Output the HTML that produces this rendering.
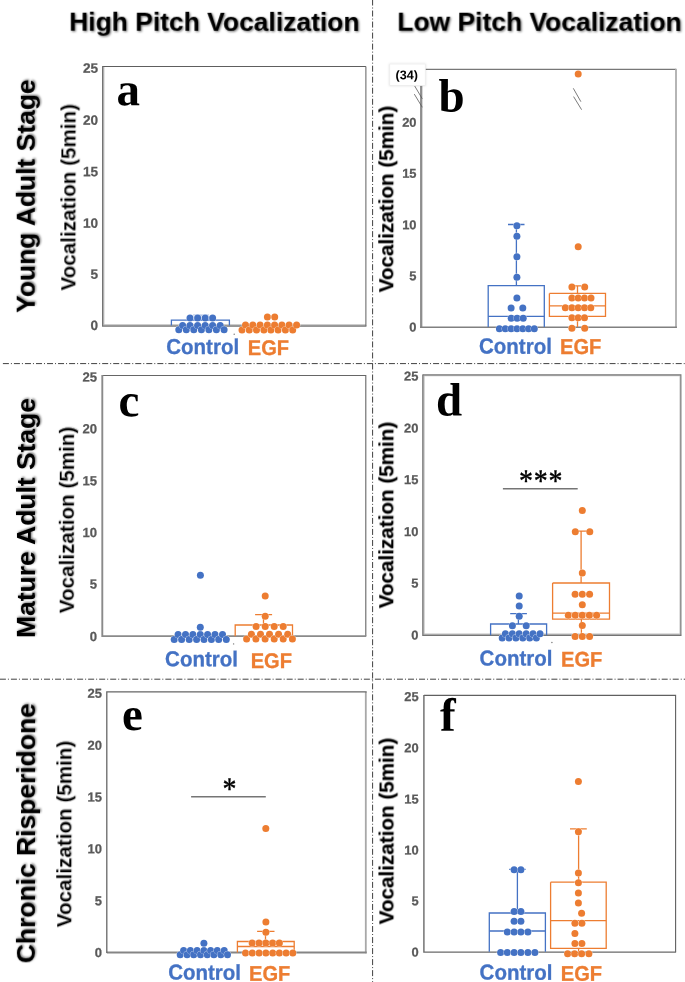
<!DOCTYPE html>
<html lang="en"><head><meta charset="utf-8"><title>Vocalization figure</title>
<style>
html,body{margin:0;padding:0;background:#fff;overflow:hidden;}
body{width:685px;height:982px;overflow:hidden;position:relative;}
svg{position:absolute;left:0;top:0;display:block;filter:blur(0.4px);}
text{font-family:"Liberation Sans",Arial,Helvetica,sans-serif;}
.ttl{font-weight:bold;font-size:26.45px;fill:#000;filter:url(#sh);}
.row{font-weight:bold;font-size:26.45px;fill:#000;filter:url(#sh);}
.ylb{font-weight:bold;font-size:20.65px;fill:#000;filter:url(#sh2);}
.thin{stroke:#fff;stroke-width:0.12px;}
.ylr{font-weight:normal;font-size:20px;letter-spacing:0.95px;fill:#000;stroke:#000;stroke-width:0.7px;filter:url(#sh2);}
.tk{font-weight:bold;fill:#595959;stroke:#595959;stroke-width:0.25px;text-anchor:end;}
.pl{font-family:"Liberation Serif","Times New Roman",serif;font-weight:bold;font-size:47px;fill:#000;}
.cl{font-weight:bold;font-size:20.5px;fill:#4472C4;stroke:#4472C4;stroke-width:0.3px;}
.el{font-weight:bold;font-size:20.1px;fill:#ED7D31;stroke:#ED7D31;stroke-width:0.3px;}
.st{font-family:"Liberation Serif","Times New Roman",serif;font-size:30px;fill:#000;stroke:#000;stroke-width:0.4px;text-anchor:middle;}
.n34{font-weight:bold;font-size:12.6px;fill:#000;}
</style></head><body>
<svg width="685" height="982" viewBox="0 0 685 982" role="img" aria-label="Vocalization box plots">
<defs>
<filter id="sh" x="-20%" y="-20%" width="140%" height="140%"><feDropShadow dx="1" dy="1" stdDeviation="0.9" flood-color="#000" flood-opacity="0.55"/></filter>
<filter id="sh2" x="-20%" y="-20%" width="140%" height="140%"><feDropShadow dx="0.5" dy="0.5" stdDeviation="0.6" flood-color="#000" flood-opacity="0.35"/></filter>
<filter id="bx" x="-20%" y="-20%" width="140%" height="140%"><feDropShadow dx="0" dy="0" stdDeviation="0.9" flood-color="#000" flood-opacity="0.13"/></filter>
</defs>
<rect x="0" y="0" width="685" height="982" fill="#fff"/>

<g stroke="#404040" stroke-width="1" fill="none" stroke-dasharray="6 2 1 2.03">
<line x1="372.6" y1="-0.5" x2="372.6" y2="982"/>
<line x1="2.9" y1="363.6" x2="685" y2="363.6"/>
<line x1="-0.1" y1="679.2" x2="685" y2="679.2"/>
</g>
<text class="ttl" transform="translate(69.2 30.7) skewY(0.05)">High Pitch Vocalization</text>
<text class="ttl" transform="translate(397.3 30.7) skewY(0.05)">Low Pitch Vocalization</text>
<path d="M103.6 66.5 L103.6 325.1 L365.9 325.1" fill="none" stroke="#bdbdbd" stroke-width="1.6"/>
<path d="M102.6 66.5 L365.9 66.5 L365.9 326.1" fill="none" stroke="#5e5e5e" stroke-width="1"/>
<path d="M102.6 66.0 L102.6 326.1 L366.4 326.1" fill="none" stroke="#747474" stroke-width="1.2"/>
<path d="M421.2 69.3 L676.0 69.3" fill="none" stroke="#555" stroke-width="1"/>
<path d="M676.0 68.8 L676.0 328.0" fill="none" stroke="#adadad" stroke-width="1.8"/>
<path d="M421.2 85.3 L421.2 328.0" fill="none" stroke="#8e8e8e" stroke-width="2.3"/>
<path d="M420.1 327.3 L676.9 327.3" fill="none" stroke="#808080" stroke-width="1.5"/>
<path d="M102.3 375.5 L365.8 375.5 L365.8 636.1" fill="none" stroke="#666" stroke-width="1.1"/>
<path d="M102.3 375.0 L102.3 636.1 L366.3 636.1" fill="none" stroke="#8a8a8a" stroke-width="1.9"/>
<path d="M423.8 374.9 L423.8 634.4 L680.9 634.4" fill="none" stroke="#bdbdbd" stroke-width="1.6"/>
<path d="M423.2 375.6 L680.2 375.6 L680.2 635.0" fill="none" stroke="#c4c4c4" stroke-width="1.4"/>
<path d="M422.8 374.9 L680.9 374.9 L680.9 635.4" fill="none" stroke="#777" stroke-width="1.1"/>
<path d="M422.8 374.4 L422.8 635.4 L681.4 635.4" fill="none" stroke="#747474" stroke-width="1.2"/>
<path d="M365.8 691.9 L365.8 953.3" fill="none" stroke="#a8a8a8" stroke-width="1.8"/>
<path d="M106.8 952.5 L366.7 952.5" fill="none" stroke="#858585" stroke-width="1.8"/>
<path d="M106.8 953.1 L106.8 691.9 L366.7 691.9" fill="none" stroke="#666" stroke-width="1.3"/>
<path d="M423.9 695.4 L675.6 695.4 L675.6 952.1" fill="none" stroke="#606060" stroke-width="1.1"/>
<path d="M423.9 694.9 L423.9 952.1 L676.1 952.1" fill="none" stroke="#6a6a6a" stroke-width="1.4"/>
<g style="font-size:13.6px">
<text class="tk" transform="translate(98.0 72.67) skewY(0.05)">25</text>
<text class="tk" transform="translate(98.0 124.87) skewY(0.05)">20</text>
<text class="tk" transform="translate(98.0 176.37) skewY(0.05)">15</text>
<text class="tk" transform="translate(98.0 227.77) skewY(0.05)">10</text>
<text class="tk" transform="translate(98.0 278.87) skewY(0.05)">5</text>
<text class="tk" transform="translate(98.0 330.07) skewY(0.05)">0</text>
</g>
<g style="font-size:12.9px">
<text class="tk" transform="translate(416.5 126.72) skewY(0.05)">20</text>
<text class="tk" transform="translate(416.5 177.82) skewY(0.05)">15</text>
<text class="tk" transform="translate(416.5 229.22) skewY(0.05)">10</text>
<text class="tk" transform="translate(416.5 280.32) skewY(0.05)">5</text>
<text class="tk" transform="translate(416.5 331.62) skewY(0.05)">0</text>
</g>
<g style="font-size:13.1px">
<text class="tk" transform="translate(97.0 381.49) skewY(0.05)">25</text>
<text class="tk" transform="translate(97.0 433.19) skewY(0.05)">20</text>
<text class="tk" transform="translate(97.0 485.29) skewY(0.05)">15</text>
<text class="tk" transform="translate(97.0 537.09) skewY(0.05)">10</text>
<text class="tk" transform="translate(97.0 588.59) skewY(0.05)">5</text>
<text class="tk" transform="translate(97.0 640.89) skewY(0.05)">0</text>
</g>
<g style="font-size:12.9px">
<text class="tk" transform="translate(418.4 380.62) skewY(0.05)">25</text>
<text class="tk" transform="translate(418.4 432.42) skewY(0.05)">20</text>
<text class="tk" transform="translate(418.4 484.12) skewY(0.05)">15</text>
<text class="tk" transform="translate(418.4 535.92) skewY(0.05)">10</text>
<text class="tk" transform="translate(418.4 587.52) skewY(0.05)">5</text>
<text class="tk" transform="translate(418.4 639.42) skewY(0.05)">0</text>
</g>
<g style="font-size:13.0px">
<text class="tk" transform="translate(102.0 697.75) skewY(0.05)">25</text>
<text class="tk" transform="translate(102.0 749.65) skewY(0.05)">20</text>
<text class="tk" transform="translate(102.0 801.45) skewY(0.05)">15</text>
<text class="tk" transform="translate(102.0 853.35) skewY(0.05)">10</text>
<text class="tk" transform="translate(102.0 905.15) skewY(0.05)">5</text>
<text class="tk" transform="translate(102.0 957.00) skewY(0.05)">0</text>
</g>
<g style="font-size:12.9px">
<text class="tk" transform="translate(418.6 701.12) skewY(0.05)">25</text>
<text class="tk" transform="translate(418.6 752.32) skewY(0.05)">20</text>
<text class="tk" transform="translate(418.6 803.42) skewY(0.05)">15</text>
<text class="tk" transform="translate(418.6 854.42) skewY(0.05)">10</text>
<text class="tk" transform="translate(418.6 905.22) skewY(0.05)">5</text>
<text class="tk" transform="translate(418.6 956.62) skewY(0.05)">0</text>
</g>
<text class="row" transform="translate(34.7 312.9) rotate(-90) skewY(0.05)">Young Adult Stage</text>
<text class="row" transform="translate(34.9 638.0) rotate(-90) skewY(0.05)">Mature Adult Stage</text>
<text class="row" transform="translate(34.9 963.3) rotate(-90) skewY(0.05)">Chronic Risperidone</text>
<text class="ylb thin" transform="translate(75.3 290.6) rotate(-90) skewY(0.05)">Vocalization (5min)</text>
<text class="ylb" transform="translate(393.2 292.4) rotate(-90) skewY(0.05)">Vocalization (5min)</text>
<text class="ylb thin" transform="translate(73.7 613.3) rotate(-90) skewY(0.05)">Vocalization (5min)</text>
<text class="ylb" transform="translate(393.2 608.4) rotate(-90) skewY(0.05)">Vocalization (5min)</text>
<text class="ylb thin" transform="translate(71.2 927.3) rotate(-90) skewY(0.05)">Vocalization (5min)</text>
<text class="ylb" transform="translate(393.4 924.4) rotate(-90) skewY(0.05)">Vocalization (5min)</text>
<text class="pl" transform="translate(116.5 105.2) skewY(0.05)">a</text>
<text class="pl" transform="translate(438.5 111.6) skewY(0.05)">b</text>
<text class="pl" transform="translate(118.6 416.3) skewY(0.05)">c</text>
<text class="pl" transform="translate(436 415.6) skewY(0.05)">d</text>
<text class="pl" transform="translate(122 730) skewY(0.05)">e</text>
<text class="pl" transform="translate(440 730.8) skewY(0.05)">f</text>
<text class="cl" transform="translate(166.3 354.0) scale(1 1.05) skewY(0.05)">Control</text>
<text class="el" transform="translate(247.8 355.0) scale(1 1.05) skewY(0.05)">EGF</text>
<text class="cl" transform="translate(479.0 353.6) scale(1 1.07) skewY(0.05)">Control</text>
<text class="el" transform="translate(560.1 353.9) scale(1 1.07) skewY(0.05)">EGF</text>
<text class="cl" transform="translate(165.1 666.2) scale(1 1.05) skewY(0.05)">Control</text>
<text class="el" transform="translate(250.7 667.9) scale(1 1.05) skewY(0.05)">EGF</text>
<text class="cl" transform="translate(479.6 665.5) scale(1 1.05) skewY(0.05)">Control</text>
<text class="el" transform="translate(561.0 666.6) scale(1 1.05) skewY(0.05)">EGF</text>
<text class="cl" transform="translate(168.2 979.6) scale(1 1.05) skewY(0.05)">Control</text>
<text class="el" transform="translate(249.0 980.8) scale(1 1.05) skewY(0.05)">EGF</text>
<text class="cl" transform="translate(479.6 979.6) scale(1 1.05) skewY(0.05)">Control</text>
<text class="el" transform="translate(560.8 980.8) scale(1 1.05) skewY(0.05)">EGF</text>
<path d="M171.4 325.5 L171.4 320.1 L229.4 320.1 L229.4 325.5" fill="none" stroke="#4472C4" stroke-width="1.3"/>
<g opacity="0.45">
<path d="M193.0 315.0 L209.0 315.0 M201.0 315.0 L201.0 320.1" fill="none" stroke="#4472C4" stroke-width="1.0"/>
</g>
<g fill="#4472C4" stroke="#fff" stroke-width="0.9" stroke-opacity="0.75" paint-order="stroke">
<circle cx="178.8" cy="329.7" r="3.5"/>
<circle cx="182.6" cy="325.4" r="3.5"/>
<circle cx="186.3" cy="329.7" r="3.5"/>
<circle cx="190.0" cy="325.4" r="3.5"/>
<circle cx="193.8" cy="329.7" r="3.5"/>
<circle cx="197.6" cy="325.4" r="3.5"/>
<circle cx="201.4" cy="329.7" r="3.5"/>
<circle cx="205.2" cy="325.4" r="3.5"/>
<circle cx="208.9" cy="329.7" r="3.5"/>
<circle cx="212.6" cy="325.4" r="3.5"/>
<circle cx="216.4" cy="329.7" r="3.5"/>
<circle cx="220.2" cy="325.4" r="3.5"/>
<circle cx="224.1" cy="329.7" r="3.5"/>
<circle cx="190.0" cy="318.1" r="3.5"/>
<circle cx="197.6" cy="318.1" r="3.5"/>
<circle cx="205.2" cy="318.1" r="3.5"/>
<circle cx="212.6" cy="318.1" r="3.5"/>
</g>
<g fill="#ED7D31" stroke="#fff" stroke-width="0.9" stroke-opacity="0.75" paint-order="stroke">
<circle cx="242.0" cy="330.1" r="3.5"/>
<circle cx="245.5" cy="324.9" r="3.5"/>
<circle cx="249.3" cy="330.1" r="3.5"/>
<circle cx="252.8" cy="324.9" r="3.5"/>
<circle cx="256.5" cy="330.1" r="3.5"/>
<circle cx="260.1" cy="324.9" r="3.5"/>
<circle cx="263.9" cy="330.1" r="3.5"/>
<circle cx="267.4" cy="324.9" r="3.5"/>
<circle cx="270.9" cy="330.1" r="3.5"/>
<circle cx="274.6" cy="324.9" r="3.5"/>
<circle cx="278.1" cy="330.1" r="3.5"/>
<circle cx="281.9" cy="324.9" r="3.5"/>
<circle cx="285.4" cy="330.1" r="3.5"/>
<circle cx="289.1" cy="324.9" r="3.5"/>
<circle cx="292.7" cy="330.1" r="3.5"/>
<circle cx="296.6" cy="324.9" r="3.5"/>
<circle cx="267.4" cy="316.9" r="3.5"/>
<circle cx="274.7" cy="316.9" r="3.5"/>
</g>
<g fill="#777"><circle cx="234.2" cy="334.3" r="0.7"/><circle cx="233.6" cy="643.9" r="0.7"/><circle cx="551.9" cy="642.5" r="0.7"/></g>
<path d="M488.2 327.0 L488.2 285.7 L544.3 285.7 L544.3 327.0" fill="none" stroke="#4472C4" stroke-width="1.3"/>
<path d="M488.2 316.3 L544.3 316.3 M516.4 285.7 L516.4 224.5 M508.0 224.5 L524.5 224.5" fill="none" stroke="#4472C4" stroke-width="1.3"/>
<g fill="#4472C4" stroke="#fff" stroke-width="0.9" stroke-opacity="0.75" paint-order="stroke">
<circle cx="516.9" cy="225.7" r="3.5"/>
<circle cx="516.9" cy="236.2" r="3.5"/>
<circle cx="516.9" cy="256.7" r="3.5"/>
<circle cx="516.9" cy="277.3" r="3.5"/>
<circle cx="516.9" cy="297.9" r="3.5"/>
<circle cx="511.1" cy="307.9" r="3.5"/>
<circle cx="522.8" cy="307.9" r="3.5"/>
<circle cx="511.2" cy="318.2" r="3.5"/>
<circle cx="517.1" cy="318.2" r="3.5"/>
<circle cx="523.2" cy="318.2" r="3.5"/>
<circle cx="499.4" cy="328.7" r="3.5"/>
<circle cx="505.3" cy="328.7" r="3.5"/>
<circle cx="511.1" cy="328.7" r="3.5"/>
<circle cx="517.0" cy="328.7" r="3.5"/>
<circle cx="522.8" cy="328.7" r="3.5"/>
<circle cx="528.6" cy="328.7" r="3.5"/>
<circle cx="534.3" cy="328.7" r="3.5"/>
</g>
<path d="M549.4 293.4 L605.5 293.4 L605.5 316.3 L549.4 316.3 L549.4 293.4" fill="none" stroke="#ED7D31" stroke-width="1.3"/>
<path d="M549.4 305.8 L605.5 305.8 M577.5 285.9 L577.5 293.4 M574.0 285.9 L581.0 285.9 M577.5 316.3 L577.5 327.0" fill="none" stroke="#ED7D31" stroke-width="1.3"/>
<g fill="#ED7D31" stroke="#fff" stroke-width="0.9" stroke-opacity="0.75" paint-order="stroke">
<circle cx="578.2" cy="74.0" r="3.5"/>
<circle cx="578.2" cy="246.7" r="3.5"/>
<circle cx="571.9" cy="287.1" r="3.5"/>
<circle cx="584.7" cy="287.1" r="3.5"/>
<circle cx="571.9" cy="297.9" r="3.5"/>
<circle cx="578.2" cy="297.9" r="3.5"/>
<circle cx="584.5" cy="297.9" r="3.5"/>
<circle cx="591.0" cy="297.9" r="3.5"/>
<circle cx="565.3" cy="307.7" r="3.5"/>
<circle cx="571.9" cy="307.7" r="3.5"/>
<circle cx="578.2" cy="307.7" r="3.5"/>
<circle cx="584.5" cy="307.7" r="3.5"/>
<circle cx="590.8" cy="307.7" r="3.5"/>
<circle cx="571.9" cy="317.7" r="3.5"/>
<circle cx="578.2" cy="317.7" r="3.5"/>
<circle cx="584.5" cy="317.7" r="3.5"/>
<circle cx="571.9" cy="328.2" r="3.5"/>
<circle cx="584.7" cy="328.2" r="3.5"/>
</g>
<path d="M414.7 86.0 L422.3 98.8 M414.3 94.1 L422.3 107.3 M573.3 88.3 L580.9 101.7 M573.6 96.6 L581.6 109.7" fill="none" stroke="#595959" stroke-width="0.8"/>
<rect x="389.7" y="64.0" width="35.6" height="21.6" fill="#fff" stroke="#ececec" stroke-width="0.8" filter="url(#bx)"/>
<text class="n34" transform="translate(395.6 79.3) skewY(0.05)">(34)</text>
<g fill="#4472C4" stroke="#fff" stroke-width="0.9" stroke-opacity="0.75" paint-order="stroke">
<circle cx="174.2" cy="639.4" r="3.5"/>
<circle cx="178.1" cy="634.5" r="3.5"/>
<circle cx="181.6" cy="639.4" r="3.5"/>
<circle cx="185.5" cy="634.5" r="3.5"/>
<circle cx="189.2" cy="639.4" r="3.5"/>
<circle cx="192.9" cy="634.5" r="3.5"/>
<circle cx="196.6" cy="639.4" r="3.5"/>
<circle cx="200.3" cy="634.5" r="3.5"/>
<circle cx="204.0" cy="639.4" r="3.5"/>
<circle cx="207.6" cy="634.5" r="3.5"/>
<circle cx="211.4" cy="639.4" r="3.5"/>
<circle cx="215.0" cy="634.5" r="3.5"/>
<circle cx="218.7" cy="639.4" r="3.5"/>
<circle cx="222.5" cy="634.5" r="3.5"/>
<circle cx="226.3" cy="639.4" r="3.5"/>
<circle cx="200.3" cy="627.2" r="3.5"/>
<circle cx="200.4" cy="575.2" r="3.5"/>
</g>
<path d="M235.2 636.3 L235.2 625.0 L292.5 625.0 L292.5 636.3" fill="none" stroke="#ED7D31" stroke-width="1.3"/>
<path d="M255.1 614.6 L272.1 614.6 M263.5 614.6 L263.5 625.0" fill="none" stroke="#ED7D31" stroke-width="1.3"/>
<g fill="#ED7D31" stroke="#fff" stroke-width="0.9" stroke-opacity="0.75" paint-order="stroke">
<circle cx="246.6" cy="639.0" r="3.5"/>
<circle cx="251.4" cy="634.3" r="3.5"/>
<circle cx="255.9" cy="639.0" r="3.5"/>
<circle cx="260.5" cy="634.3" r="3.5"/>
<circle cx="265.1" cy="639.0" r="3.5"/>
<circle cx="269.5" cy="634.3" r="3.5"/>
<circle cx="274.2" cy="639.0" r="3.5"/>
<circle cx="278.6" cy="634.3" r="3.5"/>
<circle cx="283.2" cy="639.0" r="3.5"/>
<circle cx="287.7" cy="634.3" r="3.5"/>
<circle cx="292.4" cy="639.0" r="3.5"/>
<circle cx="256.1" cy="626.4" r="3.5"/>
<circle cx="265.2" cy="626.4" r="3.5"/>
<circle cx="274.2" cy="626.4" r="3.5"/>
<circle cx="283.2" cy="626.4" r="3.5"/>
<circle cx="265.2" cy="616.2" r="3.5"/>
<circle cx="265.2" cy="596.1" r="3.5"/>
</g>
<path d="M502.9 488.7 L577.7 488.7" fill="none" stroke="#757575" stroke-width="1.6"/>
<text class="st" transform="translate(541.2 491.2) scale(0.93 1.06) skewY(0.05)" style="letter-spacing:0.95px">***</text>
<path d="M490.6 635.3 L490.6 624.0 L546.6 624.0 L546.6 635.3" fill="none" stroke="#4472C4" stroke-width="1.3"/>
<path d="M510.2 613.6 L526.9 613.6 M518.4 613.6 L518.4 624.0" fill="none" stroke="#4472C4" stroke-width="1.3"/>
<g fill="#4472C4" stroke="#fff" stroke-width="0.9" stroke-opacity="0.75" paint-order="stroke">
<circle cx="502.2" cy="637.9" r="3.5"/>
<circle cx="505.4" cy="633.8" r="3.5"/>
<circle cx="509.0" cy="637.9" r="3.5"/>
<circle cx="512.4" cy="633.8" r="3.5"/>
<circle cx="515.9" cy="637.9" r="3.5"/>
<circle cx="519.2" cy="633.8" r="3.5"/>
<circle cx="522.8" cy="637.9" r="3.5"/>
<circle cx="526.2" cy="633.8" r="3.5"/>
<circle cx="529.7" cy="637.9" r="3.5"/>
<circle cx="533.0" cy="633.8" r="3.5"/>
<circle cx="536.4" cy="637.9" r="3.5"/>
<circle cx="540.0" cy="633.8" r="3.5"/>
<circle cx="519.2" cy="595.9" r="3.5"/>
<circle cx="519.2" cy="605.9" r="3.5"/>
<circle cx="519.2" cy="616.2" r="3.5"/>
<circle cx="512.4" cy="625.7" r="3.5"/>
<circle cx="526.2" cy="625.7" r="3.5"/>
</g>
<path d="M552.6 583.0 L609.5 583.0 L609.5 619.1 L552.6 619.1 L552.6 583.0" fill="none" stroke="#ED7D31" stroke-width="1.3"/>
<path d="M552.6 613.2 L609.5 613.2 M581.1 531.1 L581.1 583.0 M573.0 531.1 L590.0 531.1 M581.4 619.1 L581.4 636.0" fill="none" stroke="#ED7D31" stroke-width="1.3"/>
<g fill="#ED7D31" stroke="#fff" stroke-width="0.9" stroke-opacity="0.75" paint-order="stroke">
<circle cx="582.3" cy="510.5" r="3.5"/>
<circle cx="575.3" cy="531.7" r="3.5"/>
<circle cx="589.8" cy="531.7" r="3.5"/>
<circle cx="582.3" cy="573.0" r="3.5"/>
<circle cx="575.1" cy="594.3" r="3.5"/>
<circle cx="582.3" cy="594.3" r="3.5"/>
<circle cx="589.6" cy="594.3" r="3.5"/>
<circle cx="582.3" cy="604.8" r="3.5"/>
<circle cx="568.3" cy="615.3" r="3.5"/>
<circle cx="575.3" cy="615.3" r="3.5"/>
<circle cx="582.3" cy="615.3" r="3.5"/>
<circle cx="589.4" cy="615.3" r="3.5"/>
<circle cx="596.6" cy="615.3" r="3.5"/>
<circle cx="582.3" cy="625.6" r="3.5"/>
<circle cx="575.1" cy="636.4" r="3.5"/>
<circle cx="582.3" cy="636.4" r="3.5"/>
<circle cx="589.6" cy="636.4" r="3.5"/>
</g>
<path d="M191.1 796.7 L265.8 796.7" fill="none" stroke="#757575" stroke-width="1.6"/>
<text class="st" transform="translate(229.4 799.2) scale(0.93 1.06) skewY(0.05)">*</text>
<g fill="#4472C4" stroke="#fff" stroke-width="0.9" stroke-opacity="0.75" paint-order="stroke">
<circle cx="180.2" cy="954.7" r="3.5"/>
<circle cx="183.6" cy="950.4" r="3.5"/>
<circle cx="187.1" cy="954.7" r="3.5"/>
<circle cx="190.4" cy="950.4" r="3.5"/>
<circle cx="193.7" cy="954.7" r="3.5"/>
<circle cx="197.1" cy="950.4" r="3.5"/>
<circle cx="200.5" cy="954.7" r="3.5"/>
<circle cx="203.9" cy="950.4" r="3.5"/>
<circle cx="207.3" cy="954.7" r="3.5"/>
<circle cx="210.6" cy="950.4" r="3.5"/>
<circle cx="213.9" cy="954.7" r="3.5"/>
<circle cx="217.3" cy="950.4" r="3.5"/>
<circle cx="220.8" cy="954.7" r="3.5"/>
<circle cx="224.2" cy="950.4" r="3.5"/>
<circle cx="227.5" cy="954.7" r="3.5"/>
<circle cx="203.9" cy="943.2" r="3.5"/>
</g>
<path d="M237.4 952.5 L237.4 941.5 L294.2 941.5 L294.2 952.5" fill="none" stroke="#ED7D31" stroke-width="1.3"/>
<path d="M237.4 946.5 L294.2 946.5 M257.1 931.3 L274.5 931.3 M265.5 931.3 L265.5 941.5" fill="none" stroke="#ED7D31" stroke-width="1.3"/>
<g fill="#ED7D31" stroke="#fff" stroke-width="0.9" stroke-opacity="0.75" paint-order="stroke">
<circle cx="265.8" cy="828.5" r="3.5"/>
<circle cx="265.9" cy="922.1" r="3.5"/>
<circle cx="265.9" cy="932.3" r="3.5"/>
<circle cx="252.1" cy="942.9" r="3.5"/>
<circle cx="259.0" cy="942.9" r="3.5"/>
<circle cx="265.8" cy="942.9" r="3.5"/>
<circle cx="272.6" cy="942.9" r="3.5"/>
<circle cx="279.4" cy="942.9" r="3.5"/>
<circle cx="245.5" cy="953.1" r="3.5"/>
<circle cx="252.3" cy="953.1" r="3.5"/>
<circle cx="259.1" cy="953.1" r="3.5"/>
<circle cx="265.9" cy="953.1" r="3.5"/>
<circle cx="272.7" cy="953.1" r="3.5"/>
<circle cx="279.4" cy="953.1" r="3.5"/>
<circle cx="286.1" cy="953.1" r="3.5"/>
<circle cx="292.8" cy="953.1" r="3.5"/>
</g>
<path d="M489.3 951.8 L489.3 913.0 L545.4 913.0 L545.4 951.8" fill="none" stroke="#4472C4" stroke-width="1.3"/>
<path d="M489.3 931.0 L545.4 931.0 M517.4 869.3 L517.4 913.0 M509.2 869.3 L525.6 869.3" fill="none" stroke="#4472C4" stroke-width="1.3"/>
<g fill="#4472C4" stroke="#fff" stroke-width="0.9" stroke-opacity="0.75" paint-order="stroke">
<circle cx="514.1" cy="869.8" r="3.5"/>
<circle cx="520.9" cy="869.8" r="3.5"/>
<circle cx="514.1" cy="911.4" r="3.5"/>
<circle cx="520.9" cy="911.4" r="3.5"/>
<circle cx="514.1" cy="921.2" r="3.5"/>
<circle cx="520.9" cy="921.2" r="3.5"/>
<circle cx="507.3" cy="932.0" r="3.5"/>
<circle cx="514.1" cy="932.0" r="3.5"/>
<circle cx="520.9" cy="932.0" r="3.5"/>
<circle cx="527.9" cy="932.0" r="3.5"/>
<circle cx="500.6" cy="952.5" r="3.5"/>
<circle cx="507.3" cy="952.5" r="3.5"/>
<circle cx="514.1" cy="952.5" r="3.5"/>
<circle cx="520.9" cy="952.5" r="3.5"/>
<circle cx="527.9" cy="952.5" r="3.5"/>
<circle cx="534.9" cy="952.5" r="3.5"/>
</g>
<path d="M550.6 882.2 L606.2 882.2 L606.2 948.3 L550.6 948.3 L550.6 882.2" fill="none" stroke="#ED7D31" stroke-width="1.3"/>
<path d="M550.6 920.7 L606.2 920.7 M578.6 828.9 L578.6 882.2 M570.0 828.9 L586.8 828.9 M578.6 948.3 L578.6 952.0" fill="none" stroke="#ED7D31" stroke-width="1.3"/>
<g fill="#ED7D31" stroke="#fff" stroke-width="0.9" stroke-opacity="0.75" paint-order="stroke">
<circle cx="578.4" cy="781.5" r="3.5"/>
<circle cx="578.4" cy="831.7" r="3.5"/>
<circle cx="578.4" cy="872.9" r="3.5"/>
<circle cx="578.4" cy="882.7" r="3.5"/>
<circle cx="578.4" cy="892.9" r="3.5"/>
<circle cx="578.4" cy="903.0" r="3.5"/>
<circle cx="581.6" cy="913.3" r="3.5"/>
<circle cx="574.9" cy="923.3" r="3.5"/>
<circle cx="581.9" cy="923.3" r="3.5"/>
<circle cx="574.9" cy="933.4" r="3.5"/>
<circle cx="574.9" cy="943.6" r="3.5"/>
<circle cx="581.9" cy="943.6" r="3.5"/>
<circle cx="567.6" cy="953.7" r="3.5"/>
<circle cx="574.6" cy="953.7" r="3.5"/>
<circle cx="581.6" cy="953.7" r="3.5"/>
<circle cx="588.9" cy="953.7" r="3.5"/>
</g>
</svg></body></html>
